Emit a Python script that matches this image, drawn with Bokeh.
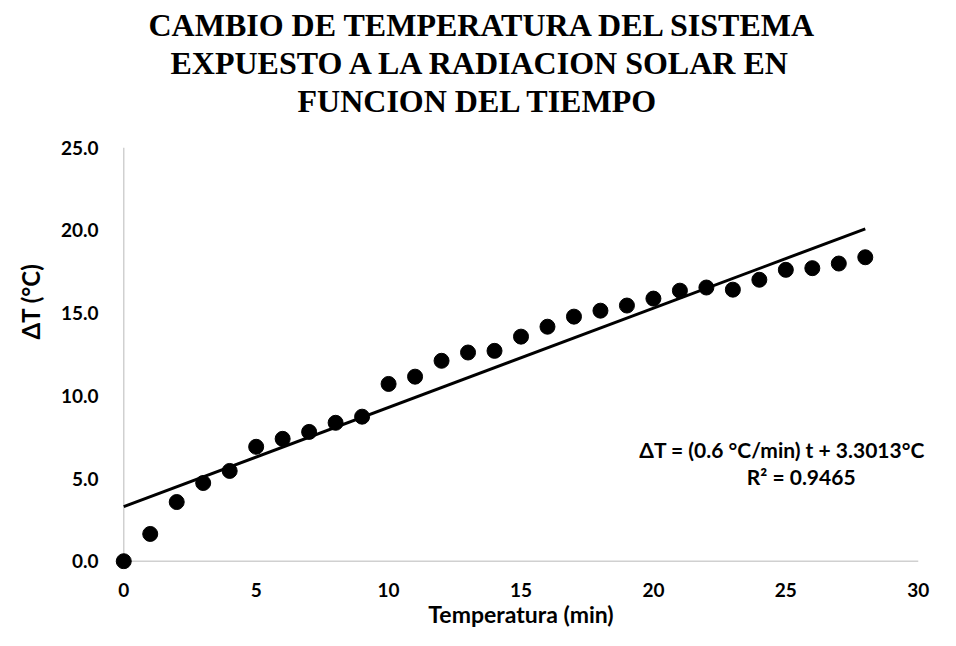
from bokeh.plotting import figure
from bokeh.models import Label, FixedTicker, Range1d, NumeralTickFormatter, Title
from bokeh.embed import file_html
from bokeh.resources import INLINE

# ---- data ----
tiempo = [0, 1, 2, 3, 4, 5, 6, 7, 8, 9, 10, 11, 12, 13, 14, 15, 16, 17, 18, 19,
          20, 21, 22, 23, 24, 25, 26, 27, 28]
delta_t = [0.0, 1.65, 3.58, 4.73, 5.46, 6.92, 7.40, 7.82, 8.37, 8.74, 10.72, 11.16,
           12.12, 12.62, 12.72, 13.58, 14.18, 14.79, 15.15, 15.46, 15.88, 16.36,
           16.55, 16.42, 17.02, 17.62, 17.72, 18.00, 18.38]
slope = 0.6
intercept = 3.3013
r2 = 0.9465
x_ticks = [0, 5, 10, 15, 20, 25, 30]
y_ticks = [0, 5, 10, 15, 20, 25]
title_lines = ["CAMBIO DE TEMPERATURA DEL SISTEMA",
               "EXPUESTO A LA RADIACION SOLAR EN",
               "FUNCION DEL TIEMPO"]
x_title = "Temperatura (min)"
y_title = "ΔT (°C)"
eq_text = "ΔT = (0.6 °C/min) t + 3.3013°C"
r2_text = "R² = 0.9465"

FONT = "Lato"
TFONT = "Liberation Serif"

p = figure(width=940, height=630, output_backend="svg", toolbar_location=None,
           x_range=Range1d(-0.5, 30.5), y_range=Range1d(-0.5, 25.5),
           min_border_left=110, min_border_right=9, min_border_top=139,
           min_border_bottom=60)
p.outline_line_color = None
p.xgrid.visible = False
p.ygrid.visible = False
p.background_fill_color = "white"
p.border_fill_color = "white"

for ax in (p.xaxis, p.yaxis):
    ax.axis_line_color = None
    ax.major_tick_line_color = None
    ax.minor_tick_line_color = None
    ax.major_label_text_font = FONT
    ax.major_label_text_font_style = "bold"
    ax.major_label_text_font_size = "19px"
    ax.major_label_text_color = "black"

p.xaxis.ticker = FixedTicker(ticks=x_ticks)
p.yaxis.ticker = FixedTicker(ticks=y_ticks)
p.yaxis.formatter = NumeralTickFormatter(format="0.0")
p.xaxis.major_label_standoff = 7
p.yaxis.major_label_standoff = 6

p.xaxis.axis_label = x_title
p.xaxis.axis_label_text_font = FONT
p.xaxis.axis_label_text_font_style = "bold"
p.xaxis.axis_label_text_font_size = "23px"
p.xaxis.axis_label_text_color = "black"
p.xaxis.axis_label_standoff = 0

# y axis title as a left-side title (placed above the frame centre, as in the original)
p.add_layout(Title(text=y_title, align="left", offset=230, standoff=26,
                   text_font=FONT, text_font_style="bold", text_font_size="24px",
                   text_color="black"), "left")

# spacer between frame and title block
p.add_layout(Title(text=" ", standoff=0, text_font_size="17px"), "above")

# main title, three lines (added bottom line first); left offsets centre each line
title_offsets = [38, 60, 187]
for txt, off in reversed(list(zip(title_lines, title_offsets))):
    p.add_layout(Title(text=txt, align="left", offset=off, standoff=0,
                       text_font=TFONT, text_font_style="bold", text_font_size="32px",
                       text_color="black"), "above")

# axis lines (light gray)
p.line([x_ticks[0], x_ticks[-1]], [0, 0], line_color="#d0d0d0", line_width=1.5)
p.line([0, 0], [y_ticks[0], y_ticks[-1]], line_color="#d0d0d0", line_width=1.5)

# trend line
t_line = [tiempo[0], tiempo[-1]]
p.line(t_line, [slope * t + intercept for t in t_line], line_color="black", line_width=3)

# points
p.scatter(tiempo, delta_t, size=15, color="black")

p.add_layout(Label(x=24.86, y=6.74, text=eq_text, text_font=FONT,
                   text_font_style="bold", text_font_size="21px",
                   text_align="center", text_baseline="alphabetic", text_color="black"))
p.add_layout(Label(x=25.58, y=5.11, text=r2_text, text_font=FONT,
                   text_font_style="bold", text_font_size="21px",
                   text_align="center", text_baseline="alphabetic", text_color="black"))

open("out.html", "w").write(file_html(p, INLINE))
